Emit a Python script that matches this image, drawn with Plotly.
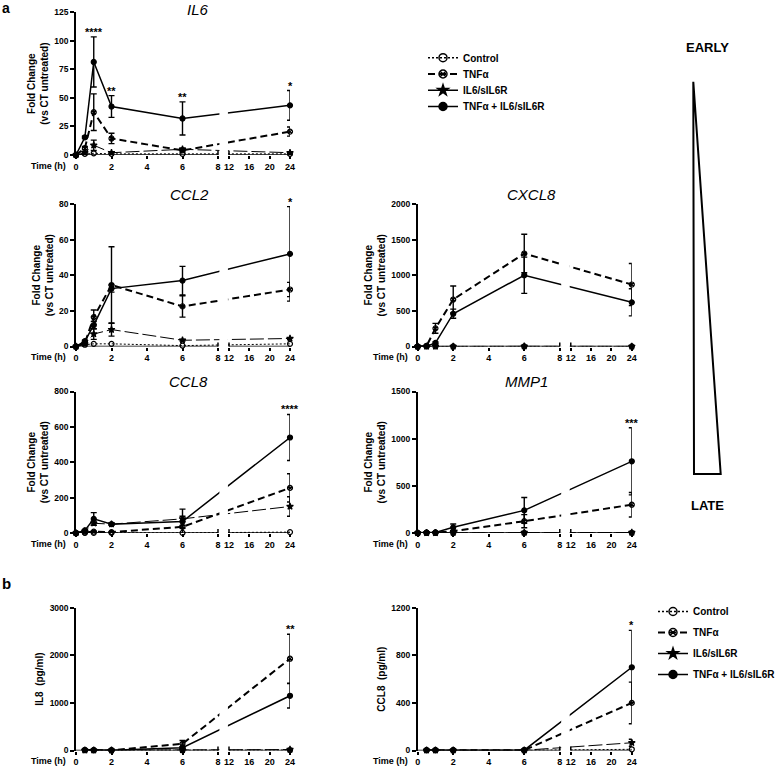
import plotly.graph_objects as go

# ---------------- data ----------------
TIME_QPCR = [0, 0.5, 1, 2, 6, 24]
TIME_PROT = [0.5, 1, 2, 6, 24]
X_TICK_HOURS = [0, 2, 4, 6, 8, 12, 16, 20, 24]
X_TICK_LABELS = ["0", "2", "4", "6", "8", "12", "16", "20", "24"]
SERIES = ["Control", "TNFα", "IL6/sIL6R", "TNFα + IL6/sIL6R"]

# IL6 (fold change)
il6_ctrl = [0, 1, 1.5, 1, 1, 1]
il6_tnf = [0, 6, 37.5, 14.5, 4, 20.5]
il6_tnf_err = [None, 1.5, 16, 4.5, 1.5, 4]
il6_il6 = [0, 2, 8.5, 2, 5, 2]
il6_il6_err = [None, None, 4.5, None, 1, None]
il6_combo = [0, 15.5, 81.5, 42.5, 32, 43.5]
il6_combo_err = [None, 1, 22, 9.5, 14.5, 13]
il6_yticks = [0, 25, 50, 75, 100, 125]
il6_star_hours = [1, 2, 6, 24]
il6_star_text = ["****", "**", "**", "*"]

# CCL2 (fold change)
ccl2_ctrl = [0, 1, 1.5, 1.5, 0.5, 1.5]
ccl2_tnf = [0, 2, 16.5, 34.5, 22.5, 32]
ccl2_tnf_err = [None, 0.5, 4, 21.5, 6, 4]
ccl2_il6 = [0, 1.5, 7, 9.5, 3.5, 4.5]
ccl2_il6_err = [None, None, 3, 3.7, 0.5, 0.5]
ccl2_combo = [0, 3, 12, 32.5, 37, 52]
ccl2_combo_err = [None, 0.5, 2, 2, 8, 26.5]
ccl2_yticks = [0, 20, 40, 60, 80]
ccl2_star_hours = [24]
ccl2_star_text = ["*"]

# CXCL8 (fold change)
cxcl8_ctrl = [0, 1, 1, 1, 1, 1]
cxcl8_tnf = [0, 10, 255, 660, 1305, 870]
cxcl8_tnf_err = [None, 5, 70, 190, 270, 295]
cxcl8_il6 = [0, 1, 2, 2, 3, 2]
cxcl8_il6_err = [None, None, None, None, None, None]
cxcl8_combo = [0, 5, 50, 460, 1000, 620]
cxcl8_combo_err = [None, 2, 15, 64, 255, 190]
cxcl8_yticks = [0, 500, 1000, 1500, 2000]
cxcl8_star_hours = []
cxcl8_star_text = []

# CCL8 (fold change)
ccl8_ctrl = [0, 1, 1, 1, 1, 5]
ccl8_tnf = [0, 3, 8, 5, 35, 255]
ccl8_tnf_err = [None, 1, 2, 2, 8, 80]
ccl8_il6 = [0, 10, 55, 50, 80, 150]
ccl8_il6_err = [None, 3, 12, 5, 15, 55]
ccl8_combo = [0, 15, 80, 50, 65, 540]
ccl8_combo_err = [None, 3, 35, 5, 70, 130]
ccl8_yticks = [0, 200, 400, 600, 800]
ccl8_star_hours = [24]
ccl8_star_text = ["****"]

# MMP1 (fold change)
mmp1_ctrl = [0, 1, 1, 1, 1, 2]
mmp1_tnf = [0, 3, 4, 20, 125, 300]
mmp1_tnf_err = [None, 1, 1, 5, 70, 130]
mmp1_il6 = [0, 2, 2, 3, 5, 5]
mmp1_il6_err = [None, None, None, None, None, None]
mmp1_combo = [0, 5, 6, 60, 240, 760]
mmp1_combo_err = [None, 1, 1, 35, 137, 356]
mmp1_yticks = [0, 500, 1000, 1500]
mmp1_star_hours = [24]
mmp1_star_text = ["***"]

# IL8 protein (pg/ml)
il8p_ctrl = [5, 5, 5, 5, 10]
il8p_tnf = [10, 8, 5, 140, 1930]
il8p_tnf_err = [2, 2, 2, 70, 515]
il8p_il6 = [5, 5, 5, 10, 20]
il8p_il6_err = [None, None, None, None, 10]
il8p_combo = [10, 8, 5, 60, 1150]
il8p_combo_err = [2, 2, 2, 20, 255]
il8p_yticks = [0, 1000, 2000, 3000]
il8p_star_hours = [24]
il8p_star_text = ["**"]

# CCL8 protein (pg/ml)
ccl8p_ctrl = [2, 2, 2, 2, 10]
ccl8p_tnf = [3, 3, 3, 3, 400]
ccl8p_tnf_err = [None, None, None, None, 175]
ccl8p_il6 = [2, 2, 2, 2, 65]
ccl8p_il6_err = [None, None, None, None, 30]
ccl8p_combo = [3, 3, 3, 3, 700]
ccl8p_combo_err = [None, None, None, None, 310]
ccl8p_yticks = [0, 400, 800, 1200]
ccl8p_star_hours = [24]
ccl8p_star_text = ["*"]

# ---------------- broken time scale (0-8 | 12-24) ----------------
W, H = 778, 766
BREAK_GAP = 0.62        # gap between 8 and 12, in left-segment hour units
RIGHT_SCALE = 0.2864    # compression of the 12-24 segment


def to_axis(h):
    return h if h <= 8 else 8 + BREAK_GAP + (h - 12) * RIGHT_SCALE


X_MAX = to_axis(24)

FONT = "Liberation Sans, Arial, sans-serif"
BLACK = "#000000"

STYLE = {
    "Control": dict(dash="2px,2px", width=1.0, symbol="circle-open", lsize=8),
    "TNFα": dict(dash="7px,4px", width=2.0, symbol="circle-x-open", lsize=8),
    "IL6/sIL6R": dict(dash="14px,4px", width=1.0, symbol="star", lsize=8),
    "TNFα + IL6/sIL6R": dict(dash="solid", width=1.5, symbol="circle", lsize=8),
}

COL_X = [(76, 290), (417.7, 631.8)]
ROW_Y = [(12.3, 155), (204, 346.5), (391.5, 533), (607.8, 750.5)]
FC_TITLE = "Fold Change<br>(vs CT untreated)"

PANELS = [
    dict(name="IL6", row=0, col=0, t=TIME_QPCR,
         vals=[il6_ctrl, il6_tnf, il6_il6, il6_combo],
         errs=[None, il6_tnf_err, il6_il6_err, il6_combo_err],
         yticks=il6_yticks, ytitle=FC_TITLE, stars=(il6_star_hours, il6_star_text),
         tshift=(15, 3)),
    dict(name="CCL2", row=1, col=0, t=TIME_QPCR,
         vals=[ccl2_ctrl, ccl2_tnf, ccl2_il6, ccl2_combo],
         errs=[None, ccl2_tnf_err, ccl2_il6_err, ccl2_combo_err],
         yticks=ccl2_yticks, ytitle=FC_TITLE, stars=(ccl2_star_hours, ccl2_star_text),
         tshift=(6, 10)),
    dict(name="CXCL8", row=1, col=1, t=TIME_QPCR,
         vals=[cxcl8_ctrl, cxcl8_tnf, cxcl8_il6, cxcl8_combo],
         errs=[None, cxcl8_tnf_err, cxcl8_il6_err, cxcl8_combo_err],
         yticks=cxcl8_yticks, ytitle=FC_TITLE, stars=(cxcl8_star_hours, cxcl8_star_text),
         tshift=(7, 10)),
    dict(name="CCL8", row=2, col=0, t=TIME_QPCR,
         vals=[ccl8_ctrl, ccl8_tnf, ccl8_il6, ccl8_combo],
         errs=[None, ccl8_tnf_err, ccl8_il6_err, ccl8_combo_err],
         yticks=ccl8_yticks, ytitle=FC_TITLE, stars=(ccl8_star_hours, ccl8_star_text),
         tshift=(5, 10)),
    dict(name="MMP1", row=2, col=1, t=TIME_QPCR,
         vals=[mmp1_ctrl, mmp1_tnf, mmp1_il6, mmp1_combo],
         errs=[None, mmp1_tnf_err, mmp1_il6_err, mmp1_combo_err],
         yticks=mmp1_yticks, ytitle=FC_TITLE, stars=(mmp1_star_hours, mmp1_star_text),
         tshift=(2, 10)),
    dict(name=None, row=3, col=0, t=TIME_PROT,
         vals=[il8p_ctrl, il8p_tnf, il8p_il6, il8p_combo],
         errs=[None, il8p_tnf_err, il8p_il6_err, il8p_combo_err],
         yticks=il8p_yticks, ytitle="IL8  (pg/ml)", stars=(il8p_star_hours, il8p_star_text),
         tshift=(0, 0)),
    dict(name=None, row=3, col=1, t=TIME_PROT,
         vals=[ccl8p_ctrl, ccl8p_tnf, ccl8p_il6, ccl8p_combo],
         errs=[None, ccl8p_tnf_err, ccl8p_il6_err, ccl8p_combo_err],
         yticks=ccl8p_yticks, ytitle="CCL8  (pg/ml)", stars=(ccl8p_star_hours, ccl8p_star_text),
         tshift=(0, 0)),
]

fig = go.Figure()
annotations = []
shapes = []
layout = {}

for i, p in enumerate(PANELS):
    k = i + 1
    xa = "x" if k == 1 else f"x{k}"
    ya = "y" if k == 1 else f"y{k}"
    xkey = "xaxis" if k == 1 else f"xaxis{k}"
    ykey = "yaxis" if k == 1 else f"yaxis{k}"
    x0p, x1p = COL_X[p["col"]]
    ytop, ybot = ROW_Y[p["row"]]
    xs = [to_axis(h) for h in p["t"]]

    for s, vals, errs in zip(SERIES, p["vals"], p["errs"]):
        st = STYLE[s]
        if errs is not None:
            idx = [j for j, e in enumerate(errs) if e is not None]
            if idx:
                fig.add_trace(go.Scatter(
                    x=[xs[j] for j in idx], y=[vals[j] for j in idx], mode="markers",
                    marker=dict(size=1, color="rgba(0,0,0,0)"),
                    error_y=dict(type="data", array=[errs[j] for j in idx], visible=True,
                                 color=BLACK, thickness=1.4, width=3),
                    xaxis=xa, yaxis=ya, showlegend=False, hoverinfo="skip", cliponaxis=False))
        fig.add_trace(go.Scatter(
            x=xs, y=vals, mode="lines+markers", name=s,
            line=dict(color=BLACK, width=st["width"], dash=st["dash"]),
            marker=dict(symbol=st["symbol"], size=5, color=BLACK,
                        line=dict(color=BLACK, width=1.2)),
            xaxis=xa, yaxis=ya, showlegend=False, cliponaxis=False))

    yt = p["yticks"]
    layout[xkey] = dict(
        domain=[x0p / W, x1p / W], range=[0, X_MAX], anchor=ya,
        showline=False, showgrid=False, zeroline=False,
        tickmode="array", tickvals=[to_axis(h) for h in X_TICK_HOURS], ticktext=X_TICK_LABELS,
        ticks="outside", ticklen=3, tickwidth=1.5, tickcolor=BLACK,
        tickfont=dict(family=FONT, size=9, color=BLACK, weight="bold"),
        automargin=False, fixedrange=True)
    layout[ykey] = dict(
        domain=[1 - ybot / H, 1 - ytop / H], range=[0, yt[-1]], anchor=xa,
        showline=True, linewidth=1.5, linecolor=BLACK, showgrid=False, zeroline=False,
        tickmode="array", tickvals=yt, ticks="outside", ticklen=4, tickwidth=1.5,
        tickcolor=BLACK, tickfont=dict(family=FONT, size=8.5, color=BLACK, weight="bold"),
        title=dict(text=p["ytitle"], standoff=4,
                   font=dict(family=FONT, size=10, color=BLACK, weight="bold")),
        automargin=False, fixedrange=True)

    # broken x-axis baseline, break marks, and the gap in the lines
    shapes.append(dict(type="rect", xref=xa, yref=f"{ya} domain", x0=8.08, x1=8.56,
                       y0=-0.01, y1=1.0, fillcolor="white", line=dict(width=0), layer="above"))
    for a, b in [(0, 8), (12, 24)]:
        shapes.append(dict(type="line", xref=xa, yref=ya, x0=to_axis(a), x1=to_axis(b),
                           y0=0, y1=0, line=dict(color=BLACK, width=1.5), layer="above"))
    for h in [8, 12]:
        shapes.append(dict(type="line", xref=xa, yref=ya, ysizemode="pixel", yanchor=0,
                           x0=to_axis(h), x1=to_axis(h), y0=-4, y1=4,
                           line=dict(color=BLACK, width=1.5), layer="above"))

    annotations.append(dict(text="Time (h)", xref=f"{xa} domain", yref=f"{ya} domain",
                            x=0, y=0, xanchor="right", yanchor="middle", xshift=-8, yshift=-10.5,
                            showarrow=False,
                            font=dict(family=FONT, size=9, color=BLACK, weight="bold")))
    if p["name"]:
        annotations.append(dict(text=p["name"], xref=f"{xa} domain", yref=f"{ya} domain",
                                x=0.5, y=1, xanchor="center", yanchor="middle",
                                xshift=p["tshift"][0], yshift=p["tshift"][1], showarrow=False,
                                font=dict(family=FONT, size=15, color=BLACK, style="italic")))
    hours, texts = p["stars"]
    for h, txt in zip(hours, texts):
        j = p["t"].index(h)
        top = max(v[j] + ((e[j] or 0) if e is not None else 0)
                  for v, e in zip(p["vals"], p["errs"]))
        annotations.append(dict(text=txt, xref=xa, yref=ya, x=to_axis(h), y=top,
                                xanchor="center", yanchor="bottom", yshift=-3, showarrow=False,
                                font=dict(family=FONT, size=11, color=BLACK, weight="bold")))

# ---------------- legends ----------------
TOP_LEG_Y = [57.7, 74, 90.3, 106.5]
legend_defs = {}
for n, (s, yc) in enumerate(zip(SERIES, TOP_LEG_Y)):
    lk = "legend" if n == 0 else f"legend{n + 1}"
    st = STYLE[s]
    fig.add_trace(go.Scatter(
        x=[None], y=[None], mode="lines+markers", name=s, legend=lk,
        line=dict(color=BLACK, width=max(st["width"], 1.5), dash=st["dash"]),
        marker=dict(symbol=st["symbol"], size=st["lsize"], color=BLACK,
                    line=dict(color=BLACK, width=1.5)),
        xaxis="x", yaxis="y", showlegend=True, hoverinfo="skip"))
    legend_defs[lk] = dict(x=423 / W, y=1 - yc / H, xanchor="left", yanchor="middle",
                           bgcolor="rgba(0,0,0,0)", borderwidth=0,
                           font=dict(family=FONT, size=10, color=BLACK, weight="bold"))

for n, s in enumerate(SERIES):
    st = STYLE[s]
    fig.add_trace(go.Scatter(
        x=[None], y=[None], mode="lines+markers", name=s, legend="legend5",
        legendgroup=f"g{n}",
        line=dict(color=BLACK, width=max(st["width"], 1.5), dash=st["dash"]),
        marker=dict(symbol=st["symbol"], size=st["lsize"], color=BLACK,
                    line=dict(color=BLACK, width=1.5)),
        xaxis="x", yaxis="y", showlegend=True, hoverinfo="skip"))
legend_defs["legend5"] = dict(x=653 / W, y=1 - 643 / H, xanchor="left", yanchor="middle",
                              bgcolor="rgba(0,0,0,0)", borderwidth=0, tracegroupgap=2,
                              font=dict(family=FONT, size=10, color=BLACK, weight="bold"))

# ---------------- EARLY / LATE wedge and panel letters ----------------
tri = [(693.3, 81.7), (694.0, 474.0), (720.7, 474.0)]
path = "M " + " L ".join(f"{x / W:.5f},{1 - y / H:.5f}" for x, y in tri) + " Z"
shapes.append(dict(type="path", xref="paper", yref="paper", path=path,
                   line=dict(color=BLACK, width=2), fillcolor="rgba(0,0,0,0)"))
annotations += [
    dict(text="EARLY", xref="paper", yref="paper", x=707.7 / W, y=1 - 48 / H,
         xanchor="center", yanchor="middle", showarrow=False,
         font=dict(family=FONT, size=13, color=BLACK, weight="bold")),
    dict(text="LATE", xref="paper", yref="paper", x=707.7 / W, y=1 - 505 / H,
         xanchor="center", yanchor="middle", showarrow=False,
         font=dict(family=FONT, size=13, color=BLACK, weight="bold")),
    dict(text="a", xref="paper", yref="paper", x=0, y=1, xanchor="left",
         yanchor="top", yshift=2, showarrow=False,
         font=dict(family=FONT, size=14, color=BLACK, weight="bold")),
    dict(text="b", xref="paper", yref="paper", x=0, y=1 - 583 / H, xanchor="left",
         yanchor="middle", showarrow=False,
         font=dict(family=FONT, size=15, color=BLACK, weight="bold")),
]

fig.update_layout(
    width=W, height=H, margin=dict(l=0, r=0, t=0, b=0, autoexpand=False),
    paper_bgcolor="white", plot_bgcolor="white",
    font=dict(family=FONT, color=BLACK),
    annotations=annotations, shapes=shapes, hovermode=False,
    **layout, **legend_defs)

fig.write_html("out.html", config={"displayModeBar": False},
               post_script="document.body.style.margin='0px';")
